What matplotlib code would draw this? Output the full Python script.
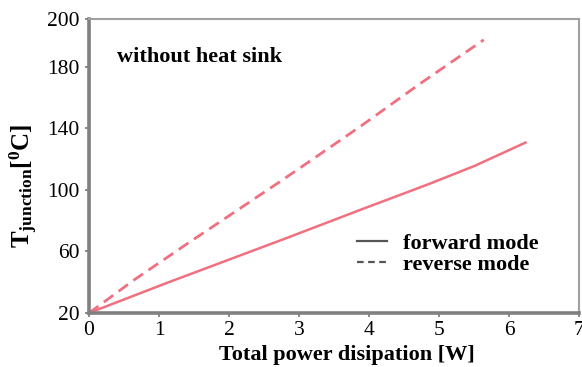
import matplotlib
matplotlib.use('Agg')
import matplotlib.pyplot as plt
from matplotlib.lines import Line2D

plt.rcParams['font.family'] = 'Liberation Serif'
plt.rcParams['mathtext.fontset'] = 'custom'
plt.rcParams['mathtext.rm'] = 'Liberation Serif'
plt.rcParams['mathtext.bf'] = 'Liberation Serif:bold'
plt.rcParams['mathtext.it'] = 'Liberation Serif:italic'

# forward mode (solid)
fwd_p = [0, 1.11, 1.99, 2.8, 3.91, 4.84, 5.51, 6.24]
fwd_t = [20, 39.5, 54.5, 68.3, 87.6, 103.5, 115.6, 130.8]
# reverse mode (dashed)
rev_p = [0, 0.66, 1.37, 2.75, 3.87, 4.73, 5.64]
rev_t = [20, 42, 64, 106, 141, 169, 197.5]

xticks = [0, 1, 2, 3, 4, 5, 6, 7]
yticks = [20, 60, 100, 140, 180, 211]
ylabels = ['20', '60', '100', '140', '180', '200']

fig = plt.figure(figsize=(5.82, 3.67), dpi=100)
ax = fig.add_axes([89/582, 1 - 313/367, 490/582, 294/367])

line_col = '#f07080'
ax.plot(fwd_p, fwd_t, color=line_col, lw=1.8, solid_capstyle='round')
ax.plot(rev_p, rev_t, color=line_col, lw=2.0, ls=(0, (4.2, 2.4)))

ax.set_xlim(0, 7)
ax.set_ylim(20, 211)
ax.set_xticks(xticks)
ax.set_yticks(yticks)
ax.set_yticklabels(ylabels)
ax.tick_params(labelsize=15.5, length=3, width=1.2, color='#777777')
ax.tick_params(axis='x', pad=3)
ax.tick_params(axis='y', pad=4)

for s in ['left', 'bottom']:
    ax.spines[s].set_color('#808080')
    ax.spines[s].set_linewidth(2.6)
for s in ['top', 'right']:
    ax.spines[s].set_color('#a0a0a0')
    ax.spines[s].set_linewidth(1.5)

ax.text(0.4, 186.3, 'without heat sink', fontsize=16, fontweight='bold', va='center')

ax.set_xlabel('Total power disipation [W]', fontsize=16, fontweight='bold')
ax.xaxis.set_label_coords(0.527, -0.108)
ax.set_ylabel(r'$\mathbf{T}_{\mathbf{junction}}$$\mathbf{[^{0}C]}$', fontsize=18)
ax.yaxis.set_label_coords(-0.1, 0.432)

handles = [Line2D([], [], color='#555555', lw=1.6),
           Line2D([], [], color='#555555', lw=1.6, ls=(0, (3, 2)))]
ax.legend(handles, ['forward mode', 'reverse mode'], loc='center left',
          bbox_to_anchor=(0.547, 0.2), frameon=False, borderpad=0, borderaxespad=0,
          prop={'weight': 'bold', 'size': 16}, handlelength=1.35,
          labelspacing=0.0, handletextpad=0.7)

fig.savefig('out.png', dpi=100)
